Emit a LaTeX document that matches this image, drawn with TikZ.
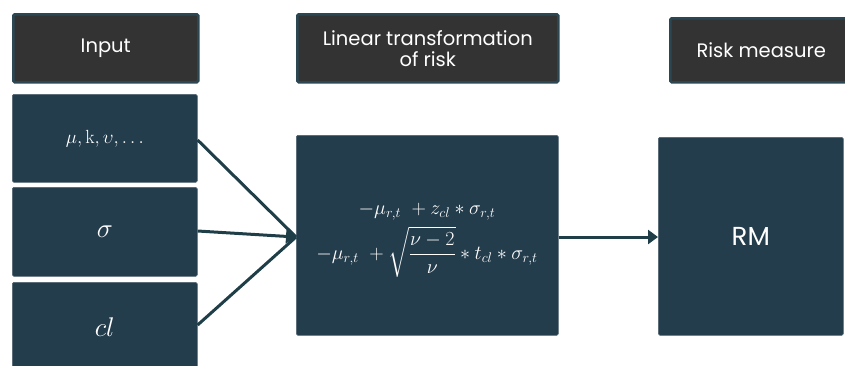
\RequirePackage{fix-cm}
\documentclass[tikz,border=0pt]{standalone}
\usepackage{amsmath}
\usepackage{fontspec}
\newfontfamily\hdfont{Poppins}
\usetikzlibrary{arrows.meta}
\definecolor{boxfill}{HTML}{243D4D}
\definecolor{hdfill}{HTML}{333333}
\definecolor{hdedge}{HTML}{2B4753}
\definecolor{arrowc}{HTML}{1F3E48}
\tikzset{
  x=1pt,y=-1pt,
  hdbox/.style={draw=hdedge,line width=2.5pt,fill=hdfill,rounded corners=1.5pt,text=white,font=\hdfont\fontsize{19.5}{22}\selectfont,align=center,inner sep=0pt},
  mbox/.style={fill=boxfill,draw=boxfill!80!white,line width=0.6pt,rounded corners=1.5pt,text=white,inner sep=0pt},
  conn/.style={draw=arrowc,line width=3pt,-{Triangle[length=10pt,width=14pt]}},
}
\begin{document}
\begin{tikzpicture}
\useasboundingbox (0,0) rectangle (845,365);
% headers
\node[hdbox,minimum width=185pt,minimum height=68pt,anchor=north west] (hin) at (12,13) {Input};
\node[hdbox,minimum width=261pt,minimum height=68pt,anchor=north west] (hlin) at (296,13) {Linear transformation\\[-1pt]of risk};
\node[hdbox,minimum width=190pt,minimum height=64pt,anchor=north west] (hrm) at (669,17) {\hspace*{-8pt}Risk measure};
% input boxes
\node[mbox,minimum width=185pt,minimum height=88pt,anchor=north west,font=\fontsize{19}{22}\selectfont] (mu) at (12,94) {$\mu,\mathrm{k},\upsilon,\ldots$};
\node[mbox,minimum width=185pt,minimum height=89pt,anchor=north west,font=\fontsize{27}{32}\selectfont] (sig) at (12,187) {$\sigma$};
\node[mbox,minimum width=185pt,minimum height=90pt,anchor=north west,font=\fontsize{27}{32}\selectfont] (cl) at (12,282) {$cl$};
% middle box
\node[mbox,minimum width=262pt,minimum height=200pt,anchor=north west] (lin) at (296,135) {};
\node[text=white,font=\fontsize{20}{24}\selectfont,align=center,inner sep=0pt] (form) at (427,240) {%
$-\mu_{r,t}\ +z_{cl}\ast\sigma_{r,t}$\\[5pt]
$-\mu_{r,t}\ +\sqrt{\dfrac{\nu-2}{\nu}}\ast t_{cl}\ast\sigma_{r,t}$};
% RM box
\node[mbox,minimum width=185pt,minimum height=198pt,anchor=north west,font=\hdfont\fontsize{26}{30}\selectfont] (rm) at (658,137) {RM};
% connectors
\coordinate (tip) at (lin.west |- 0,237);
\draw[draw=arrowc,line width=3pt] (mu.east |- 0,140) -- (tip);
\draw[draw=arrowc,line width=3pt] (cl.east |- 0,325) -- (tip);
\draw[conn] (sig.east |- 0,231) -- (tip);
\draw[conn] (lin.east |- 0,237) -- (rm.west |- 0,237);
\end{tikzpicture}
\end{document}
